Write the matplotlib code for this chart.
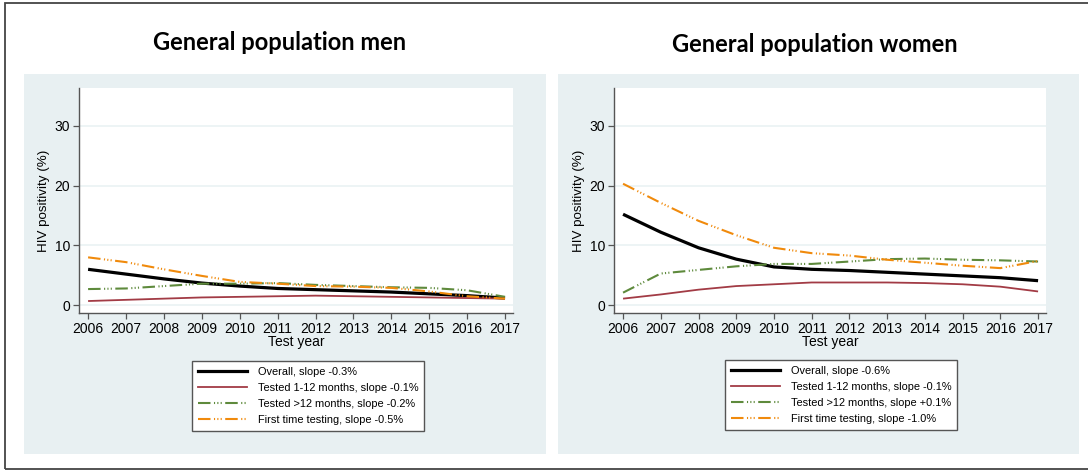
import matplotlib
matplotlib.use("Agg")
import matplotlib.pyplot as plt
from matplotlib.patches import Rectangle
from matplotlib.lines import Line2D

plt.rcParams['font.family'] = ['Liberation Sans', 'DejaVu Sans']
plt.rcParams['lines.scale_dashes'] = False

# ---------------------- data ----------------------
years = list(range(2006, 2018))

men_overall = [6.0, 5.2, 4.4, 3.7, 3.2, 2.8, 2.6, 2.4, 2.2, 1.9, 1.6, 1.2]
men_recent = [0.7, 0.9, 1.1, 1.3, 1.4, 1.5, 1.6, 1.5, 1.4, 1.3, 1.2, 1.1]
men_older = [2.7, 2.8, 3.2, 3.6, 3.6, 3.7, 3.4, 3.2, 3.0, 2.9, 2.5, 1.4]
men_first = [8.0, 7.2, 6.0, 4.9, 3.9, 3.6, 3.2, 3.1, 2.9, 2.3, 1.5, 1.1]

women_overall = [15.2, 12.2, 9.6, 7.7, 6.4, 6.0, 5.8, 5.5, 5.2, 4.9, 4.6, 4.1]
women_recent = [1.1, 1.8, 2.6, 3.2, 3.5, 3.8, 3.8, 3.8, 3.7, 3.5, 3.1, 2.3]
women_older = [2.1, 5.3, 5.9, 6.5, 6.9, 6.9, 7.3, 7.7, 7.8, 7.6, 7.5, 7.3]
women_first = [20.3, 17.1, 14.1, 11.7, 9.6, 8.7, 8.3, 7.6, 7.1, 6.6, 6.2, 7.4]

men_labels = ["Overall, slope -0.3%", "Tested 1-12 months, slope -0.1%",
              "Tested >12 months, slope -0.2%", "First time testing, slope -0.5%"]
women_labels = ["Overall, slope -0.6%", "Tested 1-12 months, slope -0.1%",
                "Tested >12 months, slope +0.1%", "First time testing, slope -1.0%"]

titles = ["General population men", "General population women"]

# ---------------------- styles ----------------------
W, H = 1088, 473
panel_bg = '#e8f0f2'
longdash_3dot = (0, (9, 2.5, 0.8, 1.6, 0.8, 1.6, 0.8, 2.5))
styles = [
    dict(color='black', lw=2.3, ls='-'),
    dict(color='#a23b45', lw=1.3, ls='-'),
    dict(color='#5e8a3c', lw=1.5, ls=longdash_3dot),
    dict(color='#f08a0c', lw=1.5, ls=longdash_3dot),
]


def fx(px):
    return px / W


def fy(py):
    return 1 - py / H


fig = plt.figure(figsize=(W / 100, H / 100), dpi=100)

# outer frame
fig.patches.append(Rectangle((fx(5), fy(469)), fx(1100), (469 - 3) / H, transform=fig.transFigure,
                             fill=False, edgecolor='#444444', lw=1.3, zorder=-2))

panels = [
    dict(bg=(24, 74, 546, 454), ax=(79, 88, 513, 313), title=(280, 42), legend=(308, 396),
         series=[men_overall, men_recent, men_older, men_first], labels=men_labels),
    dict(bg=(558, 74, 1079, 454), ax=(614, 88, 1046, 313), title=(815, 45), legend=(841, 395),
         series=[women_overall, women_recent, women_older, women_first], labels=women_labels),
]

for p, title in zip(panels, titles):
    x0, y0, x1, y1 = p['bg']
    fig.patches.append(Rectangle((fx(x0), fy(y1)), fx(x1 - x0), (y1 - y0) / H,
                                 transform=fig.transFigure, facecolor=panel_bg,
                                 edgecolor='none', zorder=-1))
    fig.text(fx(p['title'][0]), fy(p['title'][1]), title, ha='center', va='center',
             fontsize=17, fontweight='bold', family=['Lato', 'DejaVu Sans'])

    a0, b0, a1, b1 = p['ax']
    ax = fig.add_axes([fx(a0), fy(b1), fx(a1 - a0), (b1 - b0) / H])
    ax.set_facecolor('white')
    for s, st in zip(p['series'], styles):
        ax.plot(years, s, solid_capstyle='butt', dash_capstyle='butt', **st)

    ax.set_xlim(2005.76, 2017.21)
    ax.set_ylim(-1.3, 36.3)
    ax.set_xticks(years)
    ax.set_yticks([0, 10, 20, 30])
    ax.grid(axis='y', color='#eaf2f3', lw=1.2)
    ax.set_axisbelow(True)
    for side in ['top', 'right']:
        ax.spines[side].set_visible(False)
    for side in ['left', 'bottom']:
        ax.spines[side].set_color('#555555')
        ax.spines[side].set_linewidth(1.0)
    ax.tick_params(axis='both', labelsize=10, length=4, width=0.9, color='#555555', pad=2.5)
    ax.set_xlabel('Test year', fontsize=10, labelpad=-1)
    ax.set_ylabel('HIV positivity (%)', fontsize=9.6, labelpad=3)

    handles = [Line2D([], [], **st) for st in styles]
    lx, ly = p['legend']
    fig.legend(handles, p['labels'], loc='center', bbox_to_anchor=(fx(lx), fy(ly)),
               fontsize=7.9, frameon=True, fancybox=False, edgecolor='#555555',
               framealpha=1, handlelength=4.5, handletextpad=1.0, labelspacing=0.55,
               borderpad=0.5)

fig.savefig('out.png', dpi=100)
